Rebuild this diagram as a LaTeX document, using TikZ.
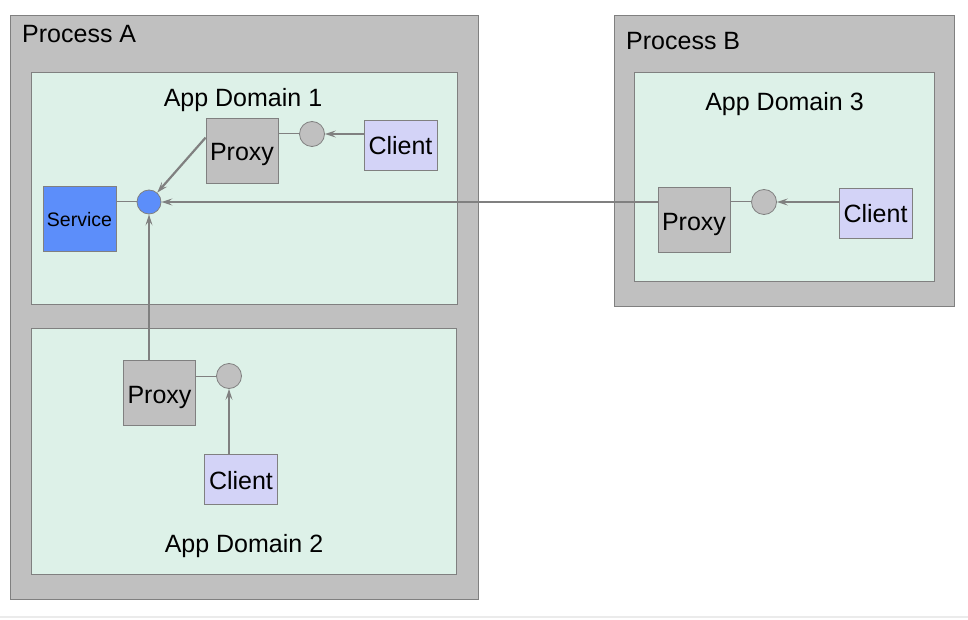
\documentclass[tikz,border=0pt]{standalone}
\usepackage{fontspec}
\setmainfont{Liberation Sans}
\usetikzlibrary{arrows.meta}
\definecolor{procgray}{HTML}{C0C0C0}
\definecolor{edgegray}{HTML}{808080}
\definecolor{mint}{HTML}{DDF1E8}
\definecolor{lavender}{HTML}{D3D3F7}
\definecolor{servblue}{HTML}{5C8EFA}
\definecolor{rulegray}{HTML}{EBEBEB}
\begin{document}
\begin{tikzpicture}[x=1pt,y=-1pt,
  bigtext/.style={font=\fontsize{25}{29}\selectfont},
  procbox/.style={draw=edgegray,fill=procgray,line width=1pt},
  appdomainbox/.style={draw=edgegray,fill=mint,line width=1pt},
  proxybox/.style={draw=edgegray,fill=procgray,line width=0.8pt,minimum width=72pt,minimum height=65pt,inner sep=0pt,text height=21pt,text depth=0pt,font=\fontsize{25}{29}\selectfont},
  clientbox/.style={draw=edgegray,fill=lavender,line width=0.8pt,minimum width=73pt,minimum height=50pt,inner sep=0pt,text height=20pt,text depth=0pt,font=\fontsize{25}{29}\selectfont},
  servicebox/.style={draw=edgegray,fill=servblue,line width=0.8pt,minimum width=73pt,minimum height=65pt,inner sep=0pt,text height=16pt,text depth=0pt,font=\fontsize{19.5}{22}\selectfont},
  port/.style={circle,draw=edgegray,fill=procgray,line width=0.8pt,minimum size=25pt,inner sep=0pt},
  bport/.style={circle,draw=edgegray,fill=servblue,line width=0.8pt,minimum size=24pt,inner sep=0pt},
  plainlink/.style={draw=edgegray,line width=1pt},
  conn/.style={draw=edgegray,line width=2.2pt,-{Stealth[length=11pt,width=7pt,inset=4.5pt]}}
]
\useasboundingbox (0,0) rectangle (968,620);
\fill[white] (0,0) rectangle (968,620);
\draw[rulegray,line width=2pt] (0,617) -- (968,617);

% Process A
\draw[procbox] (10,16) rectangle (478,599);
\node[bigtext,anchor=base west,inner sep=0pt] (pa) at (22,43) {Process A};
\draw[appdomainbox] (31,73) rectangle (457,304);
\node[bigtext,anchor=base,inner sep=0pt] (ad1) at (243,107) {App Domain 1};
\draw[appdomainbox] (31,328) rectangle (456,574);
\node[bigtext,anchor=base,inner sep=0pt] (ad2) at (244,552) {App Domain 2};

% Process B
\draw[procbox] (614,16) rectangle (954,306);
\node[bigtext,anchor=base west,inner sep=0pt] (pb) at (626,49.5) {Process B};
\draw[appdomainbox] (634,73) rectangle (934,281);
\node[bigtext,anchor=base,inner sep=0pt] (ad3) at (784.5,111) {App Domain 3};

% Domain 1
\node[servicebox] (svc) at (79.5,218.5) {Service};
\node[bport] (bc) at (149,202) {};
\node[proxybox] (p1) at (242,150.5) {Proxy};
\node[port] (c1) at (312,134) {};
\node[clientbox] (cl1) at (400.5,145) {Client};

% Domain 2
\node[proxybox] (p2) at (159.5,392.5) {Proxy};
\node[port] (c2) at (229,376) {};
\node[clientbox] (cl2) at (241,479) {Client};

% Domain 3
\node[proxybox] (p3) at (694,219.5) {Proxy};
\node[port] (c3) at (764,202) {};
\node[clientbox] (cl3) at (875.5,213) {Client};

% links
\draw[plainlink] (svc.east |- bc) -- (bc);
\draw[plainlink] (p1.east |- c1) -- (c1);
\draw[plainlink] (p2.east |- c2) -- (c2);
\draw[plainlink] (p3.east |- c3) -- (c3);

% connectors
\draw[conn] (cl1.west |- c1) -- (c1);
\draw[conn] (cl3.west |- c3) -- (c3);
\draw[conn] (cl2.north -| c2) -- (c2);
\draw[conn] ([yshift=-20pt]p1.north west) -- (bc);
\draw[conn] (p2.north -| bc) -- (bc);
\draw[conn] (p3.west |- bc) -- (bc);
\end{tikzpicture}
\end{document}
